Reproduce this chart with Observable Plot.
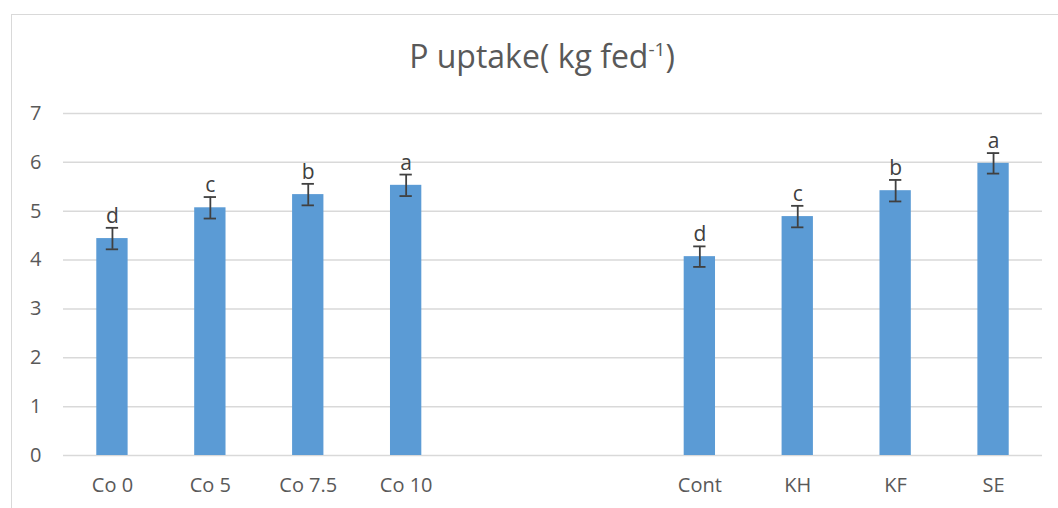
<!DOCTYPE html>
<html>
<head>
<meta charset="utf-8">
<script src="https://cdn.jsdelivr.net/npm/d3@7"></script>
<script src="https://cdn.jsdelivr.net/npm/@observablehq/plot@0.6"></script>
<style>
  html, body { margin: 0; padding: 0; background: #fff; overflow: hidden; width: 1058px; height: 508px; }
  #wrap { position: relative; width: 1058px; height: 508px; font-family: "Open Sans", sans-serif; }
  #frame { position: absolute; left: 11px; top: 14px; width: 1100px; height: 600px; border: 1.5px solid #D9D9D9; box-sizing: border-box; }
  #title { position: absolute; left: 0; width: 1084px; top: 36px; text-align: center; font-size: 32px; color: #595959; line-height: 40px; }
  #title sup { font-size: 19px; vertical-align: 0; position: relative; top: -12px; }
  #chart { position: absolute; left: 0; top: 0; }
</style>
</head>
<body>
<div id="wrap">
  <div id="frame"></div>
  <div id="title">P uptake( kg fed<sup>-1</sup>)</div>
  <div id="chart"></div>
</div>
<script>
// Data
const categories = ["Co 0", "Co 5", "Co 7.5", "Co 10", "Cont", "KH", "KF", "SE"];
const slots = ["Co 0", "Co 5", "Co 7.5", "Co 10", "gap1", "gap2", "Cont", "KH", "KF", "SE"];
const values = [4.44, 5.07, 5.34, 5.53, 4.07, 4.89, 5.42, 5.98];
const errors = [0.22, 0.22, 0.22, 0.22, 0.21, 0.22, 0.22, 0.21];
const letters = ["d", "c", "b", "a", "d", "c", "b", "a"];
const yTicks = [0, 1, 2, 3, 4, 5, 6, 7];

const data = categories.map((c, i) => ({cat: c, v: values[i], e: errors[i], lab: letters[i]}));

const textColor = "#595959";

const chart = Plot.plot({
  width: 1058,
  height: 508,
  marginLeft: 63,
  marginRight: 16,
  marginTop: 113,
  marginBottom: 53,
  style: {fontFamily: "'Open Sans', sans-serif", fontSize: "20px", color: textColor, background: "transparent", overflow: "visible"},
  x: {type: "band", domain: slots, paddingInner: 0.68, paddingOuter: 0.34, round: false, label: null},
  y: {domain: [0, 7], label: null},
  marks: [
    Plot.ruleY(yTicks, {stroke: "#D9D9D9", strokeWidth: 1.5}),
    Plot.barY(data, {x: "cat", y: "v", fill: "#5B9BD5"}),
    Plot.ruleX(data, {x: "cat", y1: d => d.v - d.e, y2: d => d.v + d.e, stroke: "#404040", strokeWidth: 1.8}),
    Plot.tickY(data, {x: "cat", y: d => d.v - d.e, stroke: "#404040", strokeWidth: 1.8, insetLeft: 9.5, insetRight: 9.5}),
    Plot.tickY(data, {x: "cat", y: d => d.v + d.e, stroke: "#404040", strokeWidth: 1.8, insetLeft: 9.5, insetRight: 9.5}),
    Plot.text(data, {x: "cat", y: d => d.v + d.e, text: "lab", lineAnchor: "bottom", dy: -5, fill: "#404040", fontSize: 21}),
    Plot.axisY(yTicks, {tickSize: 0, tickPadding: 22, fill: textColor, fontSize: 20}),
    Plot.axisX(categories, {tickSize: 0, tickPadding: 22, fill: textColor, fontSize: 20})
  ]
});
document.getElementById("chart").appendChild(chart);
</script>
</body>
</html>
